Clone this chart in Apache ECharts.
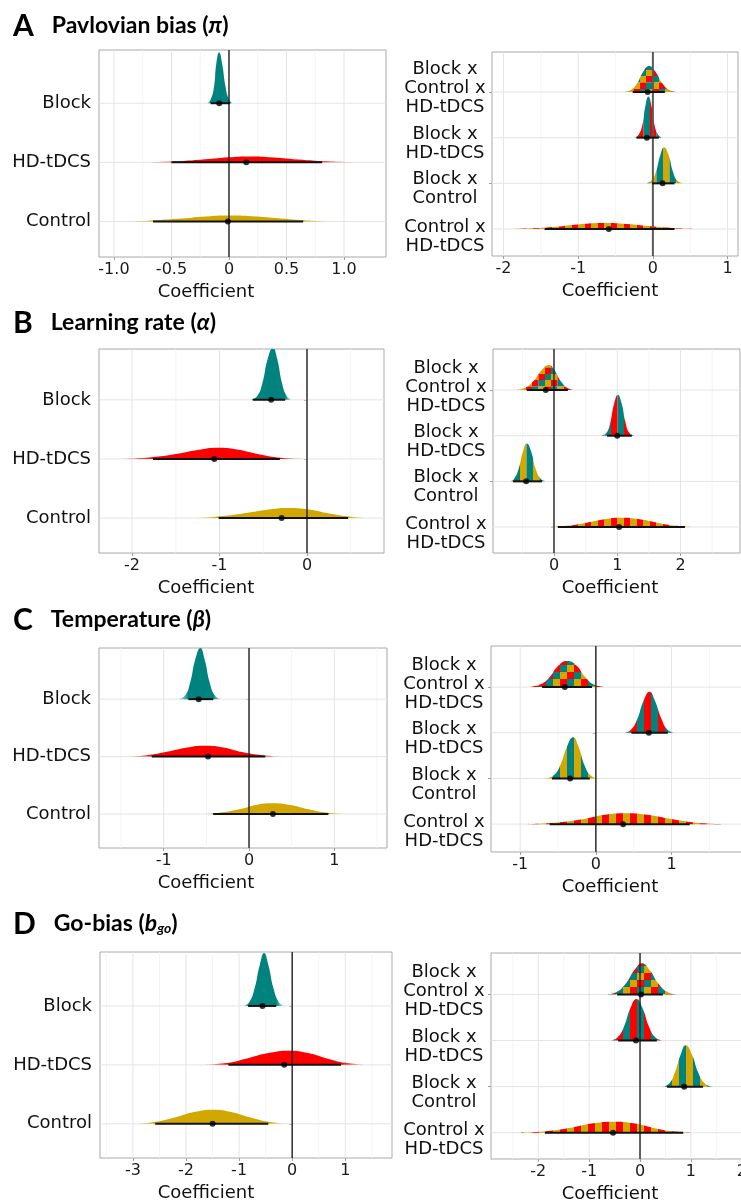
<!DOCTYPE html>
<html><head><meta charset="utf-8">
<script src="https://cdn.jsdelivr.net/npm/echarts@6/dist/echarts.min.js"></script>
<style>html,body{margin:0;padding:0;background:#fff}#c{width:741px;height:1203px}</style>
</head><body><div id="c"></div>
<script>
// ---------------- DATA ----------------
const leftCats = ['Control', 'HD-tDCS', 'Block'];
const rightCats = ['Control x\nHD-tDCS', 'Block x\nControl', 'Block x\nHD-tDCS', 'Block x\nControl x\nHD-tDCS'];

// A - Pavlovian bias, left (Control, HD-tDCS, Block)
const ticksAL = [-1, -0.5, 0, 0.5, 1];
const tickLabelsAL = ['-1.0', '-0.5', '0', '0.5', '1.0'];
const minorAL = [-0.75, -0.25, 0.25, 0.75];
const densAL = [
  [[-1.0,0],[-0.7,0.015],[-0.45,0.045],[-0.2,0.085],[0.0,0.1],[0.2,0.088],[0.45,0.05],[0.65,0.02],[0.9,0]],
  [[-0.8,0],[-0.5,0.015],[-0.25,0.045],[0,0.085],[0.17,0.1],[0.35,0.088],[0.6,0.05],[0.85,0.018],[1.15,0]],
  [[-0.19,0],[-0.16,0.06],[-0.13,0.28],[-0.11,0.67],[-0.085,0.86],[-0.06,0.67],[-0.03,0.28],[0,0.06],[0.03,0]]
];
const medAL = [-0.01, 0.15, -0.085];
const loAL = [-0.66, -0.5, -0.16];
const hiAL = [0.645, 0.81, 0.01];

// A - right (Control x HD, Block x Control, Block x HD, Block x Control x HD)
const ticksAR = [-2, -1, 0, 1];
const tickLabelsAR = ['-2', '-1', '0', '1'];
const minorAR = [-1.5, -0.5, 0.5];
const densAR = [
  [[-1.9,0],[-1.6,0.015],[-1.3,0.05],[-1.0,0.1],[-0.65,0.13],[-0.35,0.11],[-0.05,0.065],[0.3,0.02],[0.75,0]],
  [[-0.09,0],[-0.02,0.055],[0.04,0.25],[0.1,0.62],[0.15,0.79],[0.21,0.62],[0.27,0.25],[0.33,0.055],[0.41,0]],
  [[-0.24,0],[-0.19,0.063],[-0.14,0.29],[-0.1,0.7],[-0.06,0.9],[-0.02,0.7],[0.02,0.29],[0.07,0.063],[0.12,0]],
  [[-0.4,0],[-0.3,0.04],[-0.215,0.18],[-0.13,0.445],[-0.05,0.57],[0.035,0.445],[0.13,0.18],[0.225,0.04],[0.33,0]]
];
const medAR = [-0.59, 0.13, -0.08, -0.07];
const loAR = [-1.45, -0.01, -0.22, -0.27];
const hiAR = [0.29, 0.29, 0.08, 0.16];

// B - Learning rate, left
const ticksBL = [-2, -1, 0];
const tickLabelsBL = ['-2', '-1', '0'];
const minorBL = [-1.5, -0.5, 0.5];
const densBL = [
  [[-1.35,0],[-1.05,0.025],[-0.75,0.075],[-0.45,0.14],[-0.23,0.17],[0,0.15],[0.25,0.08],[0.5,0.025],[0.75,0]],
  [[-2.2,0],[-1.85,0.02],[-1.55,0.07],[-1.25,0.15],[-1.02,0.19],[-0.8,0.16],[-0.55,0.08],[-0.3,0.02],[0,0]],
  [[-0.65,0],[-0.57,0.062],[-0.51,0.28],[-0.45,0.69],[-0.39,0.88],[-0.34,0.69],[-0.285,0.28],[-0.23,0.062],[-0.17,0]]
];
const medBL = [-0.29, -1.06, -0.41];
const loBL = [-1.01, -1.76, -0.62];
const hiBL = [0.47, -0.31, -0.25];

// B - right
const ticksBR = [0, 1, 2];
const tickLabelsBR = ['0', '1', '2'];
const minorBR = [-0.5, 0.5, 1.5, 2.5];
const densBR = [
  [[-0.05,0],[0.2,0.025],[0.5,0.09],[0.8,0.17],[1.05,0.2],[1.35,0.17],[1.65,0.09],[1.9,0.03],[2.15,0]],
  [[-0.7,0],[-0.63,0.058],[-0.56,0.27],[-0.49,0.65],[-0.43,0.83],[-0.36,0.65],[-0.29,0.27],[-0.21,0.058],[-0.13,0]],
  [[0.75,0],[0.83,0.063],[0.89,0.29],[0.95,0.7],[1.01,0.9],[1.07,0.7],[1.13,0.29],[1.19,0.063],[1.27,0]],
  [[-0.62,0],[-0.47,0.04],[-0.335,0.18],[-0.2,0.43],[-0.08,0.55],[0.01,0.43],[0.115,0.18],[0.22,0.04],[0.34,0]]
];
const medBR = [1.03, -0.44, 1.0, -0.13];
const loBR = [0.06, -0.65, 0.84, -0.43];
const hiBR = [2.07, -0.19, 1.23, 0.22];

// C - Temperature, left
const ticksCL = [-1, 0, 1];
const tickLabelsCL = ['-1', '0', '1'];
const minorCL = [-1.5, -0.5, 0.5, 1.5];
const densCL = [
  [[-0.6,0],[-0.35,0.025],[-0.1,0.09],[0.08,0.16],[0.27,0.19],[0.48,0.16],[0.7,0.085],[0.92,0.025],[1.2,0]],
  [[-1.5,0],[-1.2,0.025],[-0.95,0.09],[-0.72,0.16],[-0.52,0.19],[-0.3,0.16],[-0.08,0.08],[0.15,0.025],[0.45,0]],
  [[-0.83,0],[-0.75,0.062],[-0.69,0.285],[-0.63,0.69],[-0.57,0.89],[-0.52,0.69],[-0.46,0.285],[-0.4,0.062],[-0.33,0]]
];
const medCL = [0.28, -0.48, -0.59];
const loCL = [-0.42, -1.14, -0.71];
const hiCL = [0.93, 0.19, -0.42];

// C - right
const ticksCR = [-1, 0, 1];
const tickLabelsCR = ['-1', '0', '1'];
const minorCR = [-0.5, 0.5, 1.5];
const densCR = [
  [[-0.9,0],[-0.55,0.03],[-0.2,0.1],[0.1,0.2],[0.4,0.24],[0.7,0.2],[1.0,0.11],[1.3,0.035],[1.65,0]],
  [[-0.67,0],[-0.56,0.063],[-0.47,0.29],[-0.38,0.7],[-0.3,0.9],[-0.23,0.7],[-0.15,0.29],[-0.07,0.063],[0.02,0]],
  [[0.36,0],[0.46,0.063],[0.545,0.29],[0.63,0.7],[0.71,0.9],[0.78,0.7],[0.87,0.29],[0.95,0.063],[1.05,0]],
  [[-0.92,0],[-0.75,0.05],[-0.62,0.2],[-0.5,0.46],[-0.38,0.57],[-0.26,0.48],[-0.14,0.22],[-0.02,0.05],[0.15,0]]
];
const medCR = [0.36, -0.34, 0.7, -0.41];
const loCR = [-0.61, -0.58, 0.47, -0.71];
const hiCR = [1.24, -0.08, 0.95, -0.05];

// D - Go-bias, left
const ticksDL = [-3, -2, -1, 0, 1];
const tickLabelsDL = ['-3', '-2', '-1', '0', '1'];
const minorDL = [-3.5, -2.5, -1.5, -0.5, 0.5, 1.5];
const densDL = [
  [[-3.0,0],[-2.6,0.03],[-2.2,0.11],[-1.85,0.2],[-1.48,0.24],[-1.15,0.2],[-0.8,0.11],[-0.45,0.035],[-0.05,0]],
  [[-1.75,0],[-1.25,0.03],[-0.85,0.11],[-0.45,0.2],[-0.05,0.24],[0.3,0.2],[0.65,0.11],[1.0,0.035],[1.45,0]],
  [[-0.91,0],[-0.81,0.063],[-0.71,0.29],[-0.61,0.7],[-0.53,0.9],[-0.45,0.7],[-0.35,0.29],[-0.25,0.063],[-0.15,0]]
];
const medDL = [-1.5, -0.15, -0.56];
const loDL = [-2.58, -1.2, -0.83];
const hiDL = [-0.45, 0.92, -0.3];

// D - right
const ticksDR = [-2, -1, 0, 1, 2];
const tickLabelsDR = ['-2', '-1', '0', '1', '2'];
const minorDR = [-2.5, -1.5, -0.5, 0.5, 1.5];
const densDR = [
  [[-2.35,0],[-1.85,0.03],[-1.4,0.1],[-0.95,0.2],[-0.5,0.24],[-0.1,0.2],[0.25,0.11],[0.6,0.035],[1.0,0]],
  [[0.44,0],[0.57,0.063],[0.68,0.29],[0.8,0.7],[0.9,0.9],[1.02,0.7],[1.15,0.29],[1.28,0.063],[1.43,0]],
  [[-0.6,0],[-0.45,0.063],[-0.32,0.29],[-0.19,0.7],[-0.07,0.9],[0.05,0.7],[0.18,0.29],[0.31,0.063],[0.46,0]],
  [[-0.66,0],[-0.47,0.048],[-0.29,0.22],[-0.11,0.53],[0.04,0.68],[0.19,0.53],[0.37,0.22],[0.55,0.048],[0.74,0]]
];
const medDR = [-0.53, 0.87, -0.08, 0.02];
const loDR = [-1.87, 0.53, -0.43, -0.45];
const hiDR = [0.85, 1.24, 0.33, 0.45];

const panelTitles = [
  ['A', 'Pavlovian bias (', 'π', ')'],
  ['B', 'Learning rate (', 'α', ')'],
  ['C', 'Temperature (', 'β', ')'],
  ['D', 'Go-bias (', 'b', ')']
];

// ---------------- STYLE / LAYOUT ----------------
const TEAL = '#00837F', RED = '#FF0000', GOLD = '#D2A800';
const AXIS_FONT = 'DejaVu Sans';
const TITLE_FONT = 'Lato';
// vertical nudge of multi-line right-panel labels (in category units), style only
const rightLabelNudge = [-0.16, -0.13, -0.13, 0.07];

function hexA(hex, a) {
  const n = parseInt(hex.slice(1), 16);
  return 'rgba(' + (n >> 16 & 255) + ',' + (n >> 8 & 255) + ',' + (n & 255) + ',' + a + ')';
}
function stripes(c1, c2, w) {
  const cv = document.createElement('canvas');
  const W = Math.round(w * 4);
  cv.width = W; cv.height = 4;
  const g = cv.getContext('2d');
  for (let k = 0; k < 4; k++) { g.fillStyle = k % 2 ? c2 : c1; g.fillRect(k * w, 0, w + 0.01, 4); }
  return { image: cv, repeat: 'repeat' };
}
function checker(cols, s) {
  const cv = document.createElement('canvas');
  cv.width = s * 3; cv.height = s * 3;
  const g = cv.getContext('2d');
  for (let r = 0; r < 3; r++) for (let c = 0; c < 3; c++) {
    g.fillStyle = cols[(c + r) % 3]; g.fillRect(c * s, r * s, s, s);
  }
  return { image: cv, repeat: 'repeat' };
}
function fade(color, pts, lo, hi) {
  const x0 = pts[0][0], x1 = pts[pts.length - 1][0];
  const cl = v => Math.min(1, Math.max(0, v));
  const o1 = cl((lo - x0) / (x1 - x0)), o2 = cl((hi - x0) / (x1 - x0));
  return { type: 'linear', x: 0, y: 0, x2: 1, y2: 0, colorStops: [
    { offset: 0, color: hexA(color, 0.08) }, { offset: o1, color: color },
    { offset: Math.max(o1, o2), color: color }, { offset: 1, color: hexA(color, 0.08) } ] };
}

const panels = [
  { side: 'L', dens: densAL, med: medAL, lo: loAL, hi: hiAL, ticks: ticksAL, labels: tickLabelsAL, minor: minorAL,
    left: 99, top: 50, width: 287, height: 207, xMin: -1.13, xMax: 1.365, yMin: 0.4, yMax: 3.9, namePadR: 73,
    zeroColor: '#222', zeroWidth: 1.4 },
  { side: 'R', dens: densAR, med: medAR, lo: loAR, hi: hiAR, ticks: ticksAR, labels: tickLabelsAR, minor: minorAR,
    left: 492, top: 52, width: 246, height: 204, xMin: -2.155, xMax: 1.14, yMin: 0.41, yMax: 4.875, namePadR: 10, sw: 6.5,
    zeroColor: '#5a5a5a', zeroWidth: 2 },
  { side: 'L', dens: densBL, med: medBL, lo: loBL, hi: hiBL, ticks: ticksBL, labels: tickLabelsBL, minor: minorBL,
    left: 99, top: 349, width: 285, height: 204, xMin: -2.377, xMax: 0.88, yMin: 0.41, yMax: 3.86, namePadR: 71,
    zeroColor: '#222', zeroWidth: 1.4 },
  { side: 'R', dens: densBR, med: medBR, lo: loBR, hi: hiBR, ticks: ticksBR, labels: tickLabelsBR, minor: minorBR,
    left: 493, top: 349, width: 247, height: 204, xMin: -0.964, xMax: 2.94, yMin: 0.43, yMax: 4.9, namePadR: 13, sw: 6.5,
    zeroColor: '#222', zeroWidth: 1.4 },
  { side: 'L', dens: densCL, med: medCL, lo: loCL, hi: hiCL, ticks: ticksCL, labels: tickLabelsCL, minor: minorCL,
    left: 99, top: 648, width: 288, height: 200, xMin: -1.758, xMax: 1.617, yMin: 0.41, yMax: 3.89, namePadR: 74,
    zeroColor: '#222', zeroWidth: 1.4 },
  { side: 'R', dens: densCR, med: medCR, lo: loCR, hi: hiCR, ticks: ticksCR, labels: tickLabelsCR, minor: minorCR,
    left: 491, top: 646, width: 254, height: 206, xMin: -1.385, xMax: 1.97, yMin: 0.39, yMax: 4.9, namePadR: 16, sw: 7,
    zeroColor: '#222', zeroWidth: 1.4 },
  { side: 'L', dens: densDL, med: medDL, lo: loDL, hi: hiDL, ticks: ticksDL, labels: tickLabelsDL, minor: minorDL,
    left: 100, top: 952, width: 292, height: 206, xMin: -3.62, xMax: 1.88, yMin: 0.42, yMax: 3.915, namePadR: 80,
    zeroColor: '#222', zeroWidth: 1.4 },
  { side: 'R', dens: densDR, med: medDR, lo: loDR, hi: hiDR, ticks: ticksDR, labels: tickLabelsDR, minor: minorDR,
    left: 491, top: 953, width: 266, height: 206, xMin: -2.93, xMax: 2.3, yMin: 0.43, yMax: 4.9, namePadR: 28, sw: 7,
    zeroColor: '#222', zeroWidth: 1.4 }
];
const titleTops = [10, 307, 604, 908];

const grids = [], xAxes = [], yAxes = [], series = [];
panels.forEach((p, gi) => {
  const cats = p.side === 'L' ? leftCats : rightCats;
  const catVals = cats.map((c, i) => i + 1);
  grids.push({ left: p.left, top: p.top, width: p.width, height: p.height, show: true,
    borderColor: '#A8A8A8', borderWidth: 1, backgroundColor: 'rgba(0,0,0,0)', containLabel: false, outerBoundsMode: 'none' });
  xAxes.push({ gridIndex: gi, type: 'value', min: p.xMin, max: p.xMax,
    axisLine: { show: false }, splitLine: { show: false },
    axisTick: { show: true, length: 3, lineStyle: { color: '#A0A0A0' }, customValues: p.ticks },
    axisLabel: { customValues: p.ticks, margin: 5, fontSize: 16, color: '#1a1a1a', fontFamily: AXIS_FONT,
      showMinLabel: true, showMaxLabel: true, hideOverlap: false,
      formatter: v => { const k = p.ticks.findIndex(t => Math.abs(t - v) < 1e-6); return k >= 0 ? p.labels[k] : ''; } },
    name: 'Coefficient', nameLocation: 'middle', nameGap: 26,
    nameTextStyle: { fontSize: 18, fontFamily: AXIS_FONT, color: '#111', padding: [0, p.namePadR, 0, 0] } });

  // category labels: split into two overlaid axes (odd / even) so tall multi-line labels are never auto-hidden
  const groups = p.side === 'L' ? [catVals] : [catVals.filter(v => v % 2 === 1), catVals.filter(v => v % 2 === 0)];
  const nudge = v => p.side === 'L' ? 0 : rightLabelNudge[v - 1];
  const yIndex = yAxes.length;
  groups.forEach(vals => {
    yAxes.push({ gridIndex: gi, type: 'value', min: p.yMin, max: p.yMax, position: 'left', offset: 0,
      axisLine: { show: false }, splitLine: { show: false },
      axisTick: { show: true, length: 3, lineStyle: { color: '#A0A0A0' }, customValues: vals },
      axisLabel: { customValues: vals.map(v => v + nudge(v)), fontSize: 18, lineHeight: 19, color: '#111', fontFamily: AXIS_FONT,
        showMinLabel: true, showMaxLabel: true, hideOverlap: false,
        align: p.side === 'L' ? 'right' : 'center', margin: p.side === 'L' ? 8 : 47,
        formatter: v => cats[Math.round(v) - 1] || '' } });
  });

  // grid lines
  const gl = [];
  p.minor.filter(v => v > p.xMin && v < p.xMax).forEach(v => gl.push([v, 0]));
  p.ticks.filter(v => v > p.xMin && v < p.xMax).forEach(v => gl.push([v, 1]));
  catVals.forEach(v => gl.push([v, 2]));
  series.push({ type: 'custom', xAxisIndex: gi, yAxisIndex: yIndex, silent: true, z: 1, data: gl,
    renderItem: (params, api) => {
      const v = api.value(0), kind = api.value(1);
      let a, b;
      if (kind === 2) { a = api.coord([p.xMin, v]); b = api.coord([p.xMax, v]); }
      else { a = api.coord([v, p.yMin]); b = api.coord([v, p.yMax]); }
      return { type: 'line', shape: { x1: a[0], y1: a[1], x2: b[0], y2: b[1] },
        style: { stroke: kind === 0 ? '#F1F1F1' : '#E4E4E4', lineWidth: kind === 0 ? 0.8 : 1 } };
    } });

  // densities
  let fills;
  if (p.side === 'L') {
    const base = [GOLD, RED, TEAL];
    fills = p.dens.map((d, i) => fade(base[i], d, p.lo[i], p.hi[i]));
  } else {
    fills = [stripes(RED, GOLD, p.sw), stripes(GOLD, TEAL, p.sw), stripes(RED, TEAL, p.sw), checker([RED, TEAL, GOLD], p.sw)];
  }
  p.dens.forEach((d, i) => {
    series.push({ type: 'line', xAxisIndex: gi, yAxisIndex: yIndex, silent: true, z: 2,
      data: d.map(q => [q[0], i + 1 + q[1]]), smooth: 0.5, symbol: 'none',
      lineStyle: { width: 0, opacity: 0 }, areaStyle: { origin: i + 1, color: fills[i], opacity: 1 } });
  });

  // zero line
  series.push({ type: 'line', xAxisIndex: gi, yAxisIndex: yIndex, silent: true, z: 3, symbol: 'none',
    data: [[0, p.yMin], [0, p.yMax]], lineStyle: { color: p.zeroColor, width: p.zeroWidth } });

  // intervals
  series.push({ type: 'custom', xAxisIndex: gi, yAxisIndex: yIndex, silent: true, z: 4,
    data: catVals.map((c, i) => [p.lo[i], c, p.hi[i]]),
    renderItem: (params, api) => {
      const a = api.coord([api.value(0), api.value(1)]), b = api.coord([api.value(2), api.value(1)]);
      return { type: 'line', shape: { x1: a[0], y1: a[1], x2: b[0], y2: b[1] }, style: { stroke: '#111', lineWidth: 2 } };
    } });

  // medians
  series.push({ type: 'scatter', xAxisIndex: gi, yAxisIndex: yIndex, silent: true, z: 5, symbolSize: 6,
    data: catVals.map((c, i) => [p.med[i], c]), itemStyle: { color: '#000' } });
});

const titleRich = {
  a: { fontFamily: TITLE_FONT, fontWeight: 'bold', fontSize: 30, lineHeight: 32, color: '#000', padding: [0, 18, 0, 0] },
  t: { fontFamily: TITLE_FONT, fontWeight: 'bold', fontSize: 23, lineHeight: 32, color: '#000' },
  i: { fontFamily: TITLE_FONT, fontWeight: 'bold', fontStyle: 'italic', fontSize: 23, lineHeight: 32, color: '#000' },
  s: { fontFamily: TITLE_FONT, fontWeight: 'bold', fontStyle: 'italic', fontSize: 14, lineHeight: 14, verticalAlign: 'bottom', color: '#000', padding: [0, 0, 5, 0] }
};
const titles = panelTitles.map((t, k) => ({
  left: 13, top: titleTops[k], padding: 0,
  text: '{a|' + t[0] + '}{t|' + t[1] + '}{i|' + t[2] + '}' + (k === 3 ? '{s|go}' : '') + '{t|' + t[3] + '}',
  textStyle: { rich: titleRich }
}));

const chart = echarts.init(document.getElementById('c'), null, { renderer: 'canvas', width: 741, height: 1203 });
chart.setOption({ animation: false, backgroundColor: '#fff', title: titles, grid: grids, xAxis: xAxes, yAxis: yAxes, series: series });
</script></body></html>
